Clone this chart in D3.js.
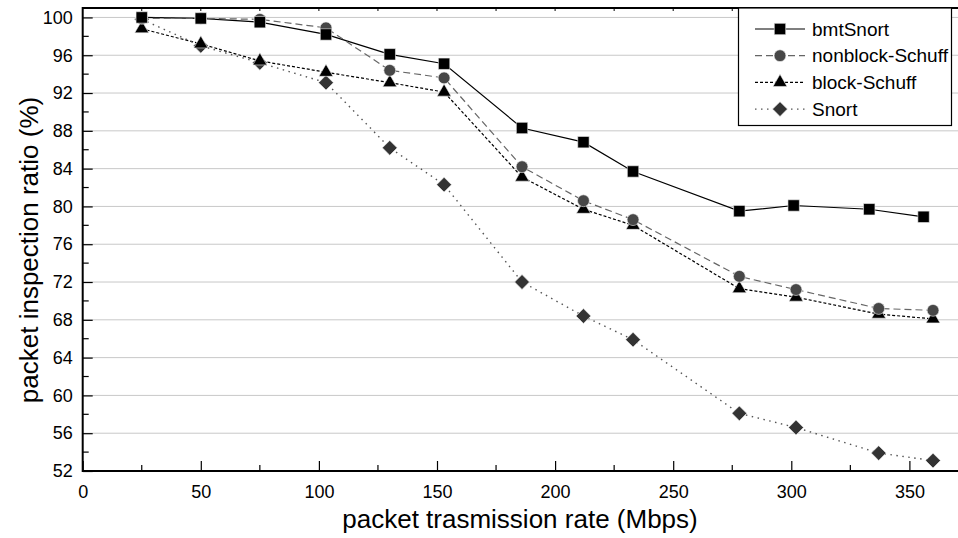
<!DOCTYPE html>
<html>
<head>
<meta charset="utf-8">
<script src="https://cdn.jsdelivr.net/npm/d3@7/dist/d3.min.js"></script>
<style>
  html, body { margin: 0; padding: 0; background: #fff; }
  svg { display: block; font-family: "Liberation Sans", Arial, sans-serif; }
</style>
</head>
<body>
<svg id="chart" width="958" height="538"></svg>
<script>
// ---- data ----
const seriesNames = ["bmtSnort", "nonblock-Schuff", "block-Schuff", "Snort"];
const xBmt   = [25, 50, 75, 103, 130, 153, 186, 212, 233, 278, 301, 333, 356];
const xOther = [25, 50, 75, 103, 130, 153, 186, 212, 233, 278, 302, 337, 360];
const bmtSnort      = [100, 99.9, 99.5, 98.2, 96.1, 95.1, 88.3, 86.8, 83.7, 79.5, 80.1, 79.7, 78.9];
const nonblockSchuff = [99.9, 99.9, 99.8, 98.9, 94.4, 93.6, 84.2, 80.6, 78.6, 72.6, 71.2, 69.2, 69.0];
const blockSchuff   = [98.8, 97.2, 95.4, 94.2, 93.1, 92.1, 83.1, 79.7, 78.0, 71.3, 70.4, 68.6, 68.1];
const snort         = [99.8, 97.0, 95.2, 93.1, 86.2, 82.3, 72.0, 68.4, 65.9, 58.1, 56.6, 53.9, 53.1];
const yTicks = [52, 56, 60, 64, 68, 72, 76, 80, 84, 88, 92, 96, 100];
const xTicks = [0, 50, 100, 150, 200, 250, 300, 350];

const series = [
  { name: seriesNames[0], xs: xBmt,   ys: bmtSnort,       dash: null,   stroke: "#000", width: 1.2, shape: d3.symbolSquare,   fill: "#000",  size: 130, rot: 0 },
  { name: seriesNames[1], xs: xOther, ys: nonblockSchuff, dash: "7,4",  stroke: "#666", width: 1.2, shape: d3.symbolCircle,   fill: "#474747", size: 110, rot: 0 },
  { name: seriesNames[2], xs: xOther, ys: blockSchuff,    dash: "3,2",  stroke: "#000", width: 1.2, shape: d3.symbolTriangle, fill: "#000",  size: 85, rot: 0 },
  { name: seriesNames[3], xs: xOther, ys: snort,          dash: "1.5,4.5", stroke: "#555", width: 1.4, shape: d3.symbolSquare, fill: "#333", size: 110, rot: 45 }
];

// ---- layout ----
const svg = d3.select("#chart");
const pLeft = 82.7, pRight = 959, pTop = 8, pBottom = 471;
const x = d3.scaleLinear().domain([0, 371]).range([pLeft, pRight]);
const y = d3.scaleLinear().domain([52, 101]).range([pBottom, pTop]);

// gridlines
svg.append("g").selectAll("line").data(yTicks.filter(v => v > 52)).join("line")
  .attr("x1", pLeft).attr("x2", pRight)
  .attr("y1", d => y(d)).attr("y2", d => y(d))
  .attr("stroke", "#c8c8c8").attr("stroke-width", 1);

// y axis (ticks inward)
const yAxis = d3.axisLeft(y).tickValues(yTicks).tickSize(-10).tickPadding(10).tickFormat(d3.format("d"));
const gy = svg.append("g").attr("transform", `translate(${pLeft},0)`).call(yAxis);
gy.select(".domain").remove();
gy.selectAll(".tick line").attr("stroke", "#000").attr("stroke-width", 1.2);
gy.selectAll(".tick text").attr("font-size", 18).attr("fill", "#000")
  .attr("font-family", "Liberation Sans, Arial, sans-serif");
// minor y ticks
const yMinor = d3.range(54, 101, 4);
svg.append("g").selectAll("line").data(yMinor).join("line")
  .attr("x1", pLeft).attr("x2", pLeft + 6)
  .attr("y1", d => y(d)).attr("y2", d => y(d))
  .attr("stroke", "#000").attr("stroke-width", 1.2);

// x axis (ticks inward)
const xAxis = d3.axisBottom(x).tickValues(xTicks).tickSize(-10).tickPadding(14).tickFormat(d3.format("d"));
const gx = svg.append("g").attr("transform", `translate(0,${pBottom})`).call(xAxis);
gx.select(".domain").remove();
gx.selectAll(".tick line").attr("stroke", "#000").attr("stroke-width", 1.2);
gx.selectAll(".tick text").attr("font-size", 18).attr("fill", "#000")
  .attr("font-family", "Liberation Sans, Arial, sans-serif");
const xMinor = d3.range(25, 371, 50);
svg.append("g").selectAll("line").data(xMinor).join("line")
  .attr("x1", d => x(d)).attr("x2", d => x(d))
  .attr("y1", pBottom).attr("y2", pBottom - 6)
  .attr("stroke", "#000").attr("stroke-width", 1.2);
// top ticks
svg.append("g").selectAll("line").data(d3.range(25, 371, 25)).join("line")
  .attr("x1", d => x(d)).attr("x2", d => x(d))
  .attr("y1", pTop).attr("y2", pTop + 3)
  .attr("stroke", "#000").attr("stroke-width", 1);

// frame
svg.append("path")
  .attr("d", `M${pRight},${pTop} H${pLeft} V${pBottom} H${pRight}`)
  .attr("fill", "none").attr("stroke", "#000").attr("stroke-width", 2);

// lines and markers
const lineGen = d3.line().x(d => x(d[0])).y(d => y(d[1]));
series.forEach(s => {
  const pts = s.xs.map((xv, i) => [xv, s.ys[i]]);
  s.pts = pts;
  svg.append("path").datum(pts).attr("d", lineGen)
    .attr("fill", "none").attr("stroke", s.stroke).attr("stroke-width", s.width)
    .attr("stroke-dasharray", s.dash);
});
series.slice().reverse().forEach(s => {
  svg.append("g").selectAll("path").data(s.pts).join("path")
    .attr("transform", d => `translate(${x(d[0])},${y(d[1])}) rotate(${s.rot})`)
    .attr("d", d3.symbol().type(s.shape).size(s.size))
    .attr("fill", s.fill).attr("stroke", "#eee").attr("stroke-width", 0.6);
});

// legend
const lg = svg.append("g");
lg.append("rect").attr("x", 738.5).attr("y", 8).attr("width", 213).attr("height", 117.5)
  .attr("fill", "#fff").attr("stroke", "#000").attr("stroke-width", 1.2);
series.forEach((s, i) => {
  const cy = 29 + i * 26.7;
  lg.append("line").attr("x1", 755).attr("x2", 805).attr("y1", cy).attr("y2", cy)
    .attr("stroke", s.stroke).attr("stroke-width", s.width).attr("stroke-dasharray", s.dash);
  lg.append("path").attr("transform", `translate(780,${cy}) rotate(${s.rot})`)
    .attr("d", d3.symbol().type(s.shape).size(s.size))
    .attr("fill", s.fill).attr("stroke", "#eee").attr("stroke-width", 0.6);
  lg.append("text").attr("x", 812).attr("y", cy + 6.5).attr("font-size", 19).attr("fill", "#000")
    .text(s.name);
});

// axis titles
svg.append("text").attr("x", 520).attr("y", 528).attr("text-anchor", "middle")
  .attr("font-size", 26).attr("fill", "#000").text("packet trasmission rate (Mbps)");
svg.append("text").attr("transform", `translate(38,250) rotate(-90)`)
  .attr("text-anchor", "middle").attr("font-size", 26).attr("fill", "#000")
  .text("packet inspection ratio (%)");
</script>
</body>
</html>
